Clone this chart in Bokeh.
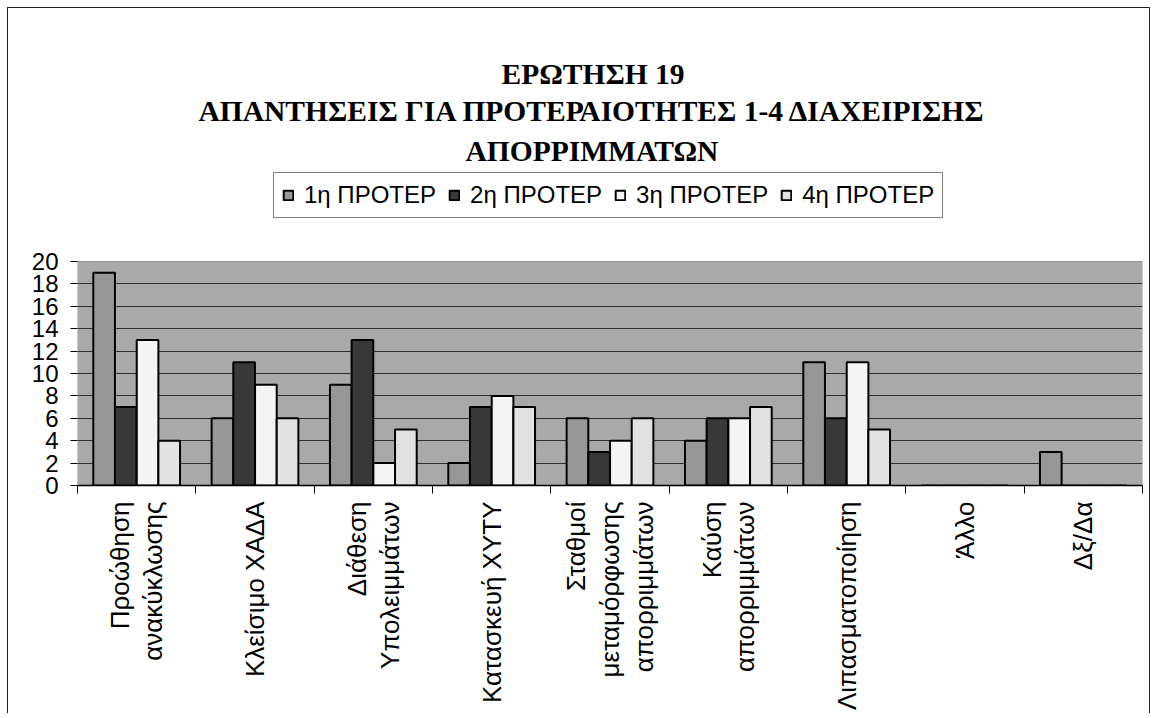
import math
from bokeh.plotting import figure
from bokeh.models import (ColumnDataSource, FixedTicker, Title, Legend, LegendItem,
                          Range1d, BoxAnnotation)
from bokeh.transform import dodge
from bokeh.embed import file_html
from bokeh.resources import INLINE

# ---------------- data ----------------
categories = ["Προώθηση\nανακύκλωσης", "Κλείσιμο ΧΑΔΑ", "Διάθεση\nΥπολειμμάτων",
              "Κατασκευή ΧΥΤΥ", "Σταθμοί\nμεταμόρφωσης\nαπορριμμάτων",
              "Καύση\nαπορριμμάτων", "Λιπασματοποίηση", "Άλλο", "Δξ/Δα"]
series_names = ["1η ΠΡΟΤΕΡ", "2η ΠΡΟΤΕΡ", "3η ΠΡΟΤΕΡ", "4η ΠΡΟΤΕΡ"]
pri1 = [19, 6, 9, 2, 6, 4, 11, 0, 3]
pri2 = [7, 11, 13, 7, 3, 6, 6, 0, 0]
pri3 = [13, 9, 2, 8, 4, 6, 11, 0, 0]
pri4 = [4, 6, 5, 7, 6, 7, 5, 0, 0]
y_ticks = [0, 2, 4, 6, 8, 10, 12, 14, 16, 18, 20]
y_max = 20
title_lines = ["ΕΡΩΤΗΣΗ 19",
               "ΑΠΑΝΤΗΣΕΙΣ ΓΙΑ ΠΡΟΤΕΡΑΙΟΤΗΤΕΣ 1-4 ΔΙΑΧΕΙΡΙΣΗΣ",
               "ΑΠΟΡΡΙΜΜΑΤΩΝ"]

# ---------------- styling ----------------
colors = ["#979797", "#383838", "#f4f4f4", "#e2e2e2"]
plot_bg = "#a9a9a9"
offsets = [-0.275, -0.092, 0.092, 0.275]
bar_w = 0.183
frame_h = 315          # frame also hosts the legend strip above the value area
y_top = y_max * frame_h / 224.0
title_standoffs = [3, 3, 8]
title_left_offsets = [424, 121, 388]   # px from frame left (titles sit a bit left of centre)

idx = list(range(len(categories)))
src = ColumnDataSource(dict(x=idx, p1=pri1, p2=pri2, p3=pri3, p4=pri4))

p = figure(frame_width=1065, frame_height=frame_h, output_backend="svg",
           toolbar_location=None, title=None,
           x_range=Range1d(-0.5, len(categories) - 0.5), y_range=Range1d(0, y_top),
           min_border_left=69, min_border_right=7, min_border_top=162,
           min_border_bottom=225)
p.styles = {"margin-left": "7px", "margin-top": "7px",
            "border-left": "1px solid #222", "border-top": "1px solid #222",
            "border-right": "1px solid #222"}

p.background_fill_color = "white"
p.border_fill_color = "white"
p.outline_line_color = None

# grey plot area (0..20) with its black outline
p.add_layout(BoxAnnotation(bottom=0, top=y_max, fill_color=plot_bg, fill_alpha=1,
                           line_color="black", line_width=1, level="image"))

renderers = []
for col, c, off in zip(["p1", "p2", "p3", "p4"], colors, offsets):
    r = p.vbar(x=dodge("x", off), top=col, width=bar_w, source=src,
               fill_color=c, line_color="black", line_width=2)
    renderers.append(r)

# axes
xa = p.xaxis[0]
xa.ticker = FixedTicker(ticks=idx, minor_ticks=[i - 0.5 for i in range(len(categories) + 1)])
xa.major_label_overrides = {i: categories[i] for i in idx}
xa.major_label_orientation = math.pi / 2
xa.major_tick_line_color = None
xa.minor_tick_line_color = "black"
xa.minor_tick_out = 8
xa.minor_tick_in = 0
xa.axis_line_color = "black"
xa.axis_line_width = 1.5
xa.major_label_text_font = "Liberation Sans"
xa.major_label_text_font_size = "26px"
xa.major_label_text_color = "black"
xa.major_label_text_line_height = 1.12
xa.major_label_standoff = 8

ya = p.yaxis[0]
ya.ticker = FixedTicker(ticks=y_ticks, minor_ticks=[])
ya.major_tick_out = 7
ya.major_tick_in = 0
ya.major_tick_line_color = "black"
ya.axis_line_color = None
ya.major_label_text_font = "Liberation Sans"
ya.major_label_text_font_size = "24px"
ya.major_label_text_color = "black"
ya.major_label_standoff = 12

p.xgrid.visible = False
p.ygrid.ticker = FixedTicker(ticks=y_ticks[1:-1])
p.ygrid.grid_line_color = "#2e2e2e"
p.ygrid.grid_line_width = 1

legend = Legend(items=[LegendItem(label=n, renderers=[r]) for n, r in zip(series_names, renderers)],
                orientation="horizontal", location=(196, 267))
legend.label_text_font = "Liberation Sans"
legend.label_text_font_size = "24px"
legend.label_text_color = "black"
legend.glyph_width = 12
legend.glyph_height = 12
legend.label_standoff = 10
legend.spacing = 12
legend.padding = 8
legend.margin = 0
legend.border_line_color = "black"
legend.border_line_width = 1
legend.background_fill_color = "white"
legend.background_fill_alpha = 1
p.add_layout(legend, "center")

for line, so, off in reversed(list(zip(title_lines, title_standoffs, title_left_offsets))):
    t = Title(text=line, align="left", offset=off, text_font="Liberation Serif",
              text_font_style="bold", text_font_size="29.5px", text_color="black",
              standoff=so)
    p.add_layout(t, "above")

open("out.html", "w").write(file_html(p, INLINE))
